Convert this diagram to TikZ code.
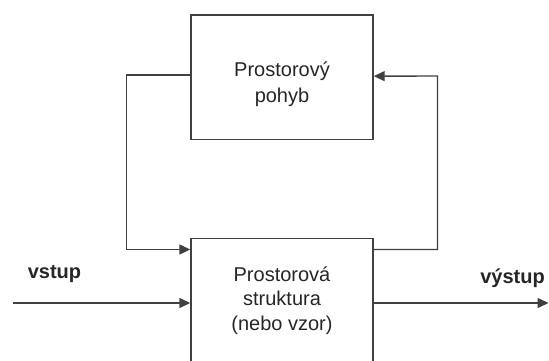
\documentclass[tikz,border=0pt]{standalone}
\usepackage{fontspec}
\setmainfont{Liberation Sans}
\usetikzlibrary{arrows.meta}
\begin{document}
\begin{tikzpicture}[x=1pt,y=1pt,
  blk/.style={draw=black!75, line width=1.4pt, minimum width=182pt, inner sep=0pt},
  conn/.style={draw=black!75, line width=1.4pt},
  arr/.style={conn, -{Triangle[length=11pt,width=10pt]}},
  txt/.style={font=\fontsize{20}{26}\selectfont, align=center, text=black!85},
  lbl/.style={font=\fontsize{20}{24}\selectfont\bfseries, text=black!85}]
\useasboundingbox (0,0) rectangle (549,360);
\clip (0,0) rectangle (549,360);
\node[blk, minimum height=124.3pt] (tb) at (282,282.85) {};
\node[blk, minimum height=140pt, anchor=north] (bb) at (282,122.3) {};
\node[txt] (tbt) at (282,275.3) {Prostorový\\pohyb};
\node[txt, font=\fontsize{20}{24.5}\selectfont] (bbt) at (282,59.5) {Prostorová\\struktura\\(nebo vzor)};
\coordinate (lc) at (126.7,110.5);
\coordinate (rc) at (437.5,284);
\coordinate (in) at (12.7,57);
\coordinate (out) at (548.5,57);
\draw[arr] ([yshift=2pt]tb.west) -| (lc) -- ([yshift=-11.8pt]bb.north west);
\draw[arr] ([yshift=-11.8pt]bb.north east) -| (rc) -- ([yshift=1pt]tb.east);
\draw[arr] (in) -- (bb.west |- in);
\draw[arr] (bb.east |- out) -- (out);
\node[lbl] (vs) at (54.5,86) {vstup};
\node[lbl] (vys) at (512.5,81.5) {výstup};
\end{tikzpicture}
\end{document}
